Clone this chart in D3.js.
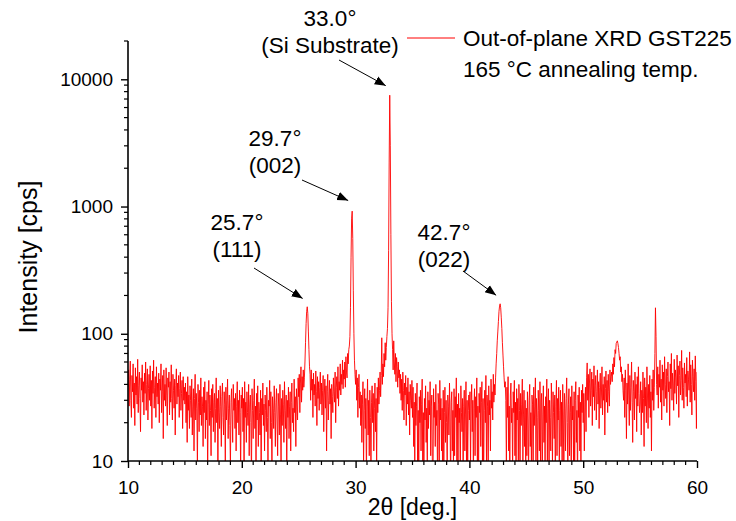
<!DOCTYPE html>
<html>
<head>
<meta charset="utf-8">
<script src="https://cdn.jsdelivr.net/npm/d3@7"></script>
<style>
  body { margin: 0; background: #fff; }
  text { font-family: "Liberation Sans", Arial, sans-serif; fill: #000; }
</style>
</head>
<body>
<script>
const width = 736;
const height = 521;
const margins = { top: 41, left: 128, bottom: 60, right: 39 };

// 2theta step of the scan
const step = 0.05;

// intensity [cps], one array per 5 degree block
const seg10 = [38,52,27,44,61,30,22,47,35,58,26,41,19,54,33,46,28,63,24,39,
  50,31,17,45,36,57,29,42,23,49,34,60,25,40,53,21,37,48,30,56,
  27,43,18,51,34,62,26,38,46,22,55,32,41,28,49,20,44,36,58,24,
  35,47,15,52,30,40,27,54,33,19,45,38,50,23,42,29,57,31,21,48,
  36,26,44,16,39,53,28,41,32,47,22,37,50,25,34,43,18,46,30,38];
const seg15 = [28,41,20,35,14,46,25,33,18,39,30,22,44,16,27,37,12,31,48,21,
  34,26,9,40,29,17,36,23,45,19,32,27,13,38,24,42,15,30,21,35,
  8,28,43,19,33,25,11,37,22,40,17,29,34,14,26,45,20,31,7,36,
  24,18,39,27,13,32,41,22,16,35,28,10,38,21,30,44,15,26,33,19,
  9,29,37,23,14,40,25,31,18,34,12,27,42,20,30,16,36,24,8,33];
const seg20 = [26,38,17,31,8,42,22,29,14,35,24,19,40,11,28,33,20,7,37,25,
  15,30,44,18,27,9,34,21,39,13,29,24,16,36,6,31,23,41,19,28,
  12,33,25,17,38,22,10,30,27,43,15,35,20,8,32,26,18,39,24,13,
  29,37,21,11,34,27,16,40,23,9,31,19,36,28,14,42,25,18,33,7,
  30,22,38,15,27,35,12,29,41,20,26,17,44,24,32,13,37,28,21,45];
const seg25 = [32,48,24,41,55,29,46,36,52,38,
  45,60,85,120,150,163,145,105,75,55,48,
  30,52,36,44,22,49,33,40,27,51,35,19,46,31,42,25,38,50,28,
  41,23,36,47,17,33,44,26,39,12,35,48,21,30,43,28,37,15,40,32,
  24,45,35,29,50,20,38,46,31,55,27,42,36,58,33,48,40,62,37,52,
  44,60,38,66,50,45,70,58,75,80,
  95,160,400,800,920,560,220,100,62,48];
const seg30 = [40,52,30,45,22,38,48,26,35,19,
  33,14,28,42,9,25,37,18,31,7,27,44,16,30,11,36,22,8,29,39,
  20,34,12,26,41,17,31,9,38,24,45,28,36,50,32,47,
  93,40,58,46,70,55,85,62,78,95,110,
  160,450,2200,7500,3000,600,180,100,
  75,52,88,60,48,70,42,65,55,38,60,45,52,34,48,
  30,44,25,50,36,21,41,33,47,19,38,28,45,23,35,16,40,30,26,43];
const seg35 = [22,38,13,29,8,34,19,27,41,9,25,7,32,20,36,12,28,44,8,24,
  7,31,21,39,14,26,9,35,18,30,23,42,11,27,33,8,6,37,22,29,
  13,40,19,25,7,34,28,10,43,21,31,12,26,7,36,9,24,38,14,30,
  20,8,33,27,16,41,23,6,29,35,12,25,9,37,11,32,22,45,8,28,
  9,34,20,26,7,39,24,17,31,6,27,36,12,23,42,8,30,10,25,33];
const seg40 = [21,35,9,28,40,17,30,7,26,37,11,32,22,45,8,27,6,34,24,38,
  13,29,42,9,31,7,25,36,20,47,10,33,27,8,39,23,30,12,44,26,
  35,21,48,29,40,33,
  45,58,70,88,105,125,150,165,172,160,135,110,85,68,55,45,38,42,
  30,9,38,22,46,12,27,7,33,41,20,26,8,35,24,43,11,29,6,37,
  21,31,9,40,25,7,34,19,28,44,10,23,36,13,30,8];
const seg45 = [26,11,35,21,7,30,40,13,24,9,33,28,6,38,19,27,45,10,31,22,
  8,36,25,12,42,9,29,34,6,23,39,14,27,8,32,20,44,10,26,37,
  7,30,22,12,41,28,9,35,24,15,33,6,27,43,11,31,21,38,8,25,
  36,13,29,9,40,23,7,34,26,12,31,45,20,8,28,37,11,24,32,7,
  39,21,27,10,35,8,30,42,14,25,6,33,22,38,12,29,9,36,24,40];
const seg50 = [20,34,12,28,38,17,
  45,59,30,48,22,41,53,27,36,50,19,44,32,56,25,39,47,21,35,52,
  28,42,18,38,49,26,33,55,23,40,30,46,16,37,51,29,43,24,48,35,
  27,52,40,46,
  50,42,58,48,65,55,75,70,84,86,88,84,78,70,62,66,50,55,42,48,36,
  30,45,22,52,36,15,41,28,58,33,19,47,25,38,60,29,14,43,35,21,50,31,40,17,46,27,55,34,24];
const seg55 = [28,42,16,36,24,50,31,13,45,27,38,20,55,33,18,40,26,47,22,35,12,44,30,52,25,38,
  70,160,95,40,
  33,55,26,48,38,62,29,44,21,57,36,50,27,66,40,31,53,24,46,60,
  35,42,19,58,37,70,30,49,41,25,63,34,52,45,28,68,39,56,22,47,
  61,33,43,74,30,54,38,26,59,41,48,32,65,27,51,44,36,72,29,57,
  40,23,62,46,35,53,30,67,42,18,50];

const segStarts = [10, 15, 20, 25, 30, 35, 40, 45, 50, 55];
const segments = [seg10, seg15, seg20, seg25, seg30, seg35, seg40, seg45, seg50, seg55];

const xTicks = [10, 20, 30, 40, 50, 60];
const yTicks = [10, 100, 1000, 10000];

const legendText = ['Out-of-plane XRD GST225', '165 \u00b0C annealing temp.'];

// peak annotations: angle, intensity at the tip, label lines
const peakAngles = [25.7, 29.7, 33.0, 42.7];
const peakTips = [170, 1000, 8000, 180];
const peakLabels = [['25.7\u00b0', '(111)'], ['29.7\u00b0', '(002)'],
  ['33.0\u00b0', '(Si Substrate)'], ['42.7\u00b0', '(022)']];
const labelAt = [[237, 230], [275, 146], [330, 26], [444, 240]];
const arrowFrom = [[254, 268], [302, 180], [339, 60], [463, 271]];

const data = [];
segments.forEach((seg, k) => {
  seg.forEach((v, i) => data.push({ x: +(segStarts[k] + i * step).toFixed(2), y: v }));
});

const x_start = margins.left;
const x_end = width - margins.right;
const y_start = height - margins.bottom;
const y_end = margins.top;

const xScale = d3.scaleLinear().domain([10, 60]).range([x_start, x_end]);
const yScale = d3.scaleLog().domain([10, 20000]).range([y_start, y_end]);

const svg = d3.select('body').append('svg')
  .attr('width', width)
  .attr('height', height);

const defs = svg.append('defs');
defs.append('clipPath').attr('id', 'plot-clip')
  .append('rect')
  .attr('x', x_start).attr('y', y_end)
  .attr('width', x_end - x_start).attr('height', y_start - y_end);

defs.append('marker')
  .attr('id', 'arrow')
  .attr('viewBox', '0 0 10 10')
  .attr('refX', 10).attr('refY', 5)
  .attr('markerWidth', 11).attr('markerHeight', 11)
  .attr('markerUnits', 'userSpaceOnUse')
  .attr('orient', 'auto')
  .append('path')
  .attr('d', 'M0,1 L10,5 L0,9 Z')
  .attr('fill', '#000');

// data line
const line = d3.line()
  .x(d => xScale(d.x))
  .y(d => yScale(d.y));

svg.append('path')
  .datum(data)
  .attr('clip-path', 'url(#plot-clip)')
  .attr('fill', 'none')
  .attr('stroke', '#ff0000')
  .attr('stroke-width', 0.9)
  .attr('d', line);

// axes
const xAxis = d3.axisBottom(xScale)
  .tickValues(xTicks)
  .tickFormat(d3.format('d'))
  .tickSize(7);
const gx = svg.append('g')
  .attr('transform', 'translate(0,' + y_start + ')')
  .call(xAxis);
gx.selectAll('line.minor')
  .data(d3.range(11, 60, 1).filter(v => v % 10 !== 0))
  .join('line')
  .attr('class', 'minor')
  .attr('x1', d => xScale(d)).attr('x2', d => xScale(d))
  .attr('y1', 0).attr('y2', 4)
  .attr('stroke', '#000').attr('stroke-width', 1.2);

const yAxis = d3.axisLeft(yScale)
  .tickValues(yTicks)
  .tickFormat(d3.format('d'))
  .tickSize(7);
const gy = svg.append('g')
  .attr('transform', 'translate(' + x_start + ',0)')
  .call(yAxis);
const yMinor = [];
[10, 100, 1000, 10000].forEach(dec => {
  for (let m = 2; m <= 9; m++) if (dec * m <= 20000) yMinor.push(dec * m);
});
gy.selectAll('line.minor')
  .data(yMinor)
  .join('line')
  .attr('class', 'minor')
  .attr('x1', 0).attr('x2', -4)
  .attr('y1', d => yScale(d)).attr('y2', d => yScale(d))
  .attr('stroke', '#000').attr('stroke-width', 1.2);

[gx, gy].forEach(g => {
  g.attr('font-size', null).attr('font-family', null);
  g.select('.domain').attr('stroke', '#000').attr('stroke-width', 1.6);
  g.selectAll('.tick line').attr('stroke', '#000').attr('stroke-width', 1.4);
  g.selectAll('.tick text')
    .style('font-family', '"Liberation Sans", Arial, sans-serif')
    .style('font-size', '19px')
    .attr('fill', '#000');
});
gx.select('.domain').attr('d', 'M' + x_start + ',0H' + x_end);
gy.select('.domain').attr('d', 'M0,' + y_start + 'V' + y_end);
gx.selectAll('.tick text').attr('dy', '0.71em').attr('y', 20);
gy.selectAll('.tick text').attr('x', -15);

// axis titles
svg.append('text')
  .attr('x', (x_start + x_end) / 2)
  .attr('y', 515)
  .attr('text-anchor', 'middle')
  .style('font-size', '23px')
  .text('2\u03b8 [deg.]');

svg.append('text')
  .attr('transform', 'translate(37,' + 257 + ') rotate(-90)')
  .attr('text-anchor', 'middle')
  .style('font-size', '25px')
  .text('Intensity [cps]');

// legend
svg.append('line')
  .attr('x1', 407).attr('x2', 455)
  .attr('y1', 38).attr('y2', 38)
  .attr('stroke', '#ff0000').attr('stroke-width', 1);
svg.selectAll('text.legend')
  .data(legendText)
  .join('text')
  .attr('class', 'legend')
  .attr('x', 463)
  .attr('y', (d, i) => 46 + i * 31)
  .style('font-size', '22.5px')
  .text(d => d);

// peak annotations
peakAngles.forEach((a, i) => {
  const g = svg.append('g');
  g.selectAll('text')
    .data(peakLabels[i])
    .join('text')
    .attr('x', labelAt[i][0])
    .attr('y', (d, j) => labelAt[i][1] + j * 27)
    .attr('text-anchor', 'middle')
    .style('font-size', '22.5px')
    .text(d => d);
  g.append('line')
    .attr('x1', arrowFrom[i][0]).attr('y1', arrowFrom[i][1])
    .attr('x2', xScale(a) - 4).attr('y2', yScale(peakTips[i]) - 6)
    .attr('stroke', '#000').attr('stroke-width', 1)
    .attr('marker-end', 'url(#arrow)');
});
</script>
</body>
</html>
